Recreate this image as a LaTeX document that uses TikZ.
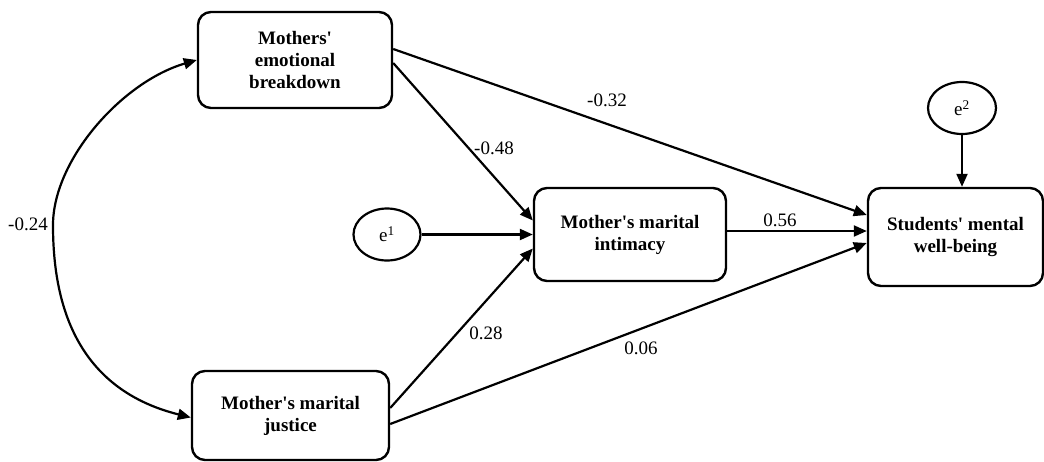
\documentclass[tikz,border=0pt]{standalone}
\usepackage{fontspec}
\setmainfont{Liberation Serif}
\usetikzlibrary{arrows.meta,shapes.geometric}
\newcommand{\ap}{\textquotesingle}
\begin{document}
\begin{tikzpicture}[x=1pt,y=-1pt,
  box/.style={draw,line width=2.4pt,rounded corners=13pt,align=center,
    font=\fontsize{19}{22}\selectfont\bfseries,inner sep=0pt},
  err/.style={draw,ellipse,line width=2.2pt,inner sep=0pt,
    font=\fontsize{19}{22}\selectfont},
  arr/.style={line width=2.2pt,-{Triangle[length=13pt,width=11pt]}},
  lab/.style={font=\fontsize{19}{22}\selectfont,inner sep=0pt}]
\useasboundingbox (0,0) rectangle (1044,461);
\node[box,minimum width=194pt,minimum height=96pt] (A) at (295,60) {Mothers\ap\\emotional\\breakdown};
\node[box,minimum width=197pt,minimum height=89pt] (B) at (290.5,415.5) {Mother\ap s marital\\justice};
\node[box,minimum width=192pt,minimum height=93pt] (M) at (630,234.5) {Mother\ap s marital\\intimacy};
\node[box,minimum width=175pt,minimum height=98pt] (S) at (955.5,237) {Students\ap\ mental\\well-being};
\node[err,minimum width=67pt,minimum height=52pt] (e1) at (387,234.5) {e\textsuperscript{1}};
\node[err,minimum width=68pt,minimum height=52pt] (e2) at (962,108) {e\textsuperscript{2}};
\coordinate (mid) at (53,225);

\draw[arr] ([yshift=11pt]A.east) -- ([yshift=22pt]S.west);
\draw[arr] ([yshift=-3pt]A.east) -- ([yshift=14pt]M.west);
\draw[arr] (e1.east) -- (M.west);
\draw[arr] ([yshift=7.5pt]B.east) -- ([yshift=-14pt]M.west);
\draw[arr] ([yshift=-8.5pt]B.east) -- ([yshift=-6pt]S.west);
\draw[arr] ([yshift=3.5pt]M.east) -- ([yshift=6pt]S.west);
\draw[arr] (e2.south) -- (e2.south |- S.north);
\draw[line width=2.2pt,{Triangle[length=13pt,width=11pt]}-{Triangle[length=13pt,width=11pt]}]
  (A.west) .. controls +(-75,22) and +(0,-65) .. (mid)
  .. controls +(0,70) and +(-120,-30) .. ([yshift=-2pt]B.west);

\node[lab] (l1) at (607,100) {-0.32};
\node[lab] (l2) at (494,148) {-0.48};
\node[lab] (l3) at (780,220) {0.56};
\node[lab] (l4) at (486,333) {0.28};
\node[lab] (l5) at (641,348) {0.06};
\node[lab] (l6) at (28,224) {-0.24};
\end{tikzpicture}
\end{document}
